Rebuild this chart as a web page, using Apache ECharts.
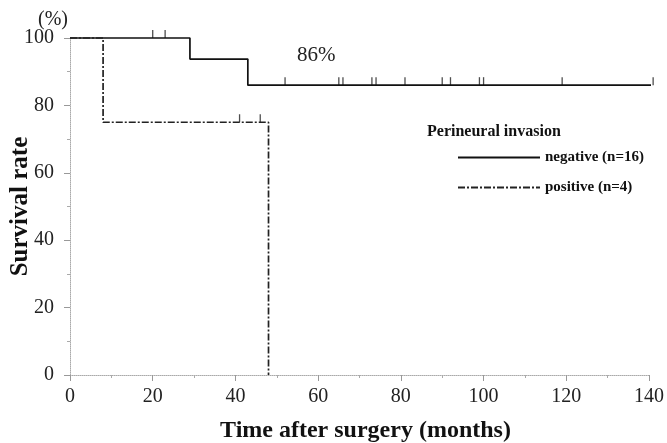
<!DOCTYPE html>
<html>
<head>
<meta charset="utf-8">
<script src="https://cdn.jsdelivr.net/npm/echarts@6/dist/echarts.min.js"></script>
<style>
  html, body { margin: 0; padding: 0; background: #fff; }
  #chart { width: 667px; height: 443px; }
</style>
</head>
<body>
<div id="chart"></div>
<script>
// Kaplan-Meier steps (months, survival %)
const negTimes = [0, 29, 43, 141]
const negSurv = [100, 93.75, 86, 86]
const posTimes = [0, 8, 48]
const posSurv = [100, 75, 0]

// censored observations
const negCensorTimes = [20, 23, 52, 65, 66, 73, 74, 81, 90, 92, 99, 100, 119, 141]
const negCensorSurv = [100, 100, 86, 86, 86, 86, 86, 86, 86, 86, 86, 86, 86, 86]
const posCensorTimes = [41, 46]
const posCensorSurv = [75, 75]

const xTicks = [0, 20, 40, 60, 80, 100, 120, 140]
const yTicks = [0, 20, 40, 60, 80, 100]

const serif = '"Liberation Serif", "DejaVu Serif", serif'
const zip = (a, b) => a.map((v, i) => [v, b[i]])

const chart = echarts.init(document.getElementById('chart'))

const axisCommon = {
    axisLine: { show: true, lineStyle: { color: '#aaa', width: 1, type: 'dotted' } },
    axisTick: { show: true, inside: false, length: 6, lineStyle: { color: '#999' } },
    minorTick: { show: true, splitNumber: 2, length: 3, lineStyle: { color: '#aaa' } },
    splitLine: { show: false },
    axisLabel: { color: '#222', fontFamily: serif, fontSize: 20 }
}

const nameStyle = { color: '#111', fontFamily: serif, fontWeight: 'bold' }

const option = {
    animation: false,
    backgroundColor: '#fff',
    grid: { left: 70, right: 18, top: 38, bottom: 68, containLabel: false, outerBoundsMode: 'none' },
    xAxis: Object.assign({}, axisCommon, {
        type: 'value',
        min: xTicks[0],
        max: xTicks[xTicks.length - 1],
        interval: 20,
        name: 'Time after surgery (months)',
        nameLocation: 'middle',
        nameGap: 44,
        nameMoveOverlap: false,
        nameTextStyle: Object.assign({ fontSize: 24, padding: [0, 0, 0, 12] }, nameStyle),
        axisLabel: Object.assign({}, axisCommon.axisLabel, { margin: 12 })
    }),
    yAxis: Object.assign({}, axisCommon, {
        type: 'value',
        min: yTicks[0],
        max: yTicks[yTicks.length - 1],
        interval: 20,
        name: 'Survival rate',
        nameLocation: 'middle',
        nameGap: 37,
        nameMoveOverlap: false,
        nameTextStyle: Object.assign({ fontSize: 25 }, nameStyle),
        axisLabel: Object.assign({}, axisCommon.axisLabel, { margin: 16, padding: [6, 0, 0, 0] })
    }),
    legend: {
        orient: 'vertical',
        left: 452,
        top: 145,
        itemWidth: 82,
        itemHeight: 14,
        itemGap: 15,
        itemStyle: { opacity: 0 },
        data: ['negative (n=16)', 'positive (n=4)'],
        textStyle: { color: '#111', fontFamily: serif, fontSize: 15, fontWeight: 'bold', padding: [0, 0, 0, 0] }
    },
    graphic: [
        { type: 'text', left: 38, top: 10, style: { text: '(%)', font: '20px ' + serif, fill: '#222' } },
        { type: 'text', left: 297, top: 45, style: { text: '86%', font: '21px ' + serif, fill: '#222' } },
        { type: 'text', left: 427, top: 124, style: { text: 'Perineural invasion', font: 'bold 16px ' + serif, fill: '#111' } }
    ],
    series: [
        {
            name: 'negative (n=16)',
            type: 'line',
            step: 'end',
            symbol: 'none',
            clip: false,
            data: zip(negTimes, negSurv),
            lineStyle: { color: '#111', width: 1.7, type: 'solid' },
            itemStyle: { color: '#111' }
        },
        {
            name: 'positive (n=4)',
            type: 'line',
            step: 'end',
            symbol: 'none',
            clip: false,
            data: zip(posTimes, posSurv),
            lineStyle: { color: '#222', width: 1.7, type: [7, 2, 2, 2] },
            itemStyle: { color: '#222' }
        },
        {
            name: 'neg censored',
            type: 'scatter',
            clip: false,
            symbol: 'rect',
            symbolSize: [1.3, 8],
            symbolOffset: [0, -4],
            itemStyle: { color: '#222' },
            data: zip(negCensorTimes, negCensorSurv)
        },
        {
            name: 'pos censored',
            type: 'scatter',
            clip: false,
            symbol: 'rect',
            symbolSize: [1.3, 8],
            symbolOffset: [0, -4],
            itemStyle: { color: '#222' },
            data: zip(posCensorTimes, posCensorSurv)
        }
    ]
}

chart.setOption(option)
</script>
</body>
</html>
